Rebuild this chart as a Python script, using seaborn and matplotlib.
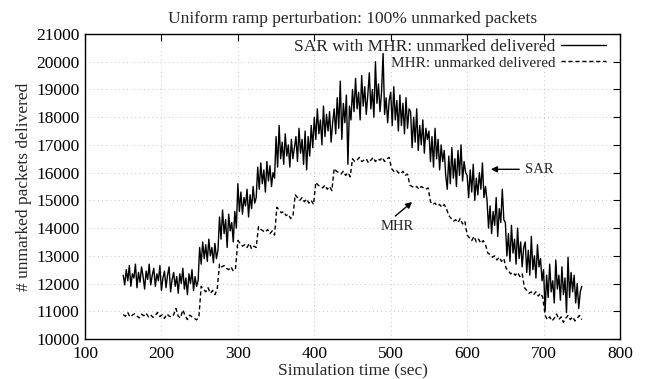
import matplotlib
matplotlib.use("Agg")
import matplotlib.pyplot as plt
from matplotlib.lines import Line2D
import seaborn as sns
import numpy as np
import pandas as pd

time_sar = np.arange(150, 751, 2)
time_mhr = np.arange(150, 751, 3)

# SAR with MHR: unmarked delivered (solid)
sar = [
    12300, 11950, 12500, 12100, 12650, 11900, 12350, 12200, 12700, 11850,
    12400, 12050, 12600, 12250, 11800, 12450, 12150, 12700, 11950, 12300,
    12550, 11900, 12350, 12100, 12650, 11750, 12200, 12450, 11850, 12300,
    12600, 11700, 12150, 12400, 11900, 12250, 11650, 12350, 12000, 12550,
    11800, 12200, 11600, 12350, 12000, 12500, 11750, 12250, 11900, 12100,
    # 250 s
    13300, 12700, 13500, 12900, 13400, 12800, 13600, 13000, 13300, 12750,
    13450, 12900, 13200,
    14400, 13600, 14650, 13800, 14300, 13300, 14500, 13900, 14200, 13500,
    14600, 14000,
    # 300 s
    15600, 14600, 15300, 14500, 15100, 14800, 15400, 14400, 15200, 14700,
    15500, 14900, 15100,
    16200, 15400, 16350, 15600, 16100, 15300, 16400, 15700, 16250, 15500,
    16000, 15800,
    # 350 s
    17300, 16200, 17700, 16500, 17100, 16300, 17400, 16600, 17000, 16200,
    17200, 16500, 16900,
    17300, 16400, 17600, 16700, 17200, 16300, 17500, 16100, 17300, 16600,
    17700, 16900,
    # 400 s
    18000, 17200, 18300, 17400, 17900, 17000, 18400, 17300, 18100, 17500,
    18200, 17100, 17800,
    18300, 17400, 18700, 17600, 19300, 17200, 18500, 17800, 18800, 16300,
    18400, 17900,
    # 450 s
    19000, 18200, 19400, 18300, 18900, 17900, 19500, 18400, 19100, 18100,
    18800, 19600, 18300, 19000, 18000, 20000, 18500, 19200, 18200, 18900,
    20300, 18100, 18700, 17800, 18600,
    # 500 s
    18900, 17700, 19100, 17900, 18600, 17500, 18800, 17700, 18500, 17400,
    18700, 17600, 18300,
    18200, 16900, 18000, 17100, 18300, 16800, 17700, 17000, 17900, 16700,
    17600, 17200,
    # 550 s
    17500, 16400, 17300, 16200, 17600, 16500, 17200, 16100, 17000, 16400,
    16800, 15900, 15400,
    16600, 15600, 16900, 15800, 16500, 15500, 16800, 15900, 17000, 15700,
    16400, 16000,
    # 600 s
    15900, 15100, 16100, 15300, 16300, 15000, 15800, 15200, 16000, 15400,
    16350, 15100, 15500,
    15000, 14000, 14800, 13800, 14600, 14100, 15100, 13700, 14700, 14200,
    15400, 14300,
    # 650 s
    14200, 13000, 13800, 12800, 14100, 13100, 13600, 12700, 14000, 12900,
    13500, 12600, 13300,
    13500, 12400, 13200, 12300, 13700, 12500, 13000, 12200, 13400, 12600,
    12900, 12100,
    # 700 s
    12500, 11000, 12300, 11500, 12700, 11700, 12100, 11300, 12850, 11800,
    12300, 11400, 12600, 11600, 12200, 10950, 12950, 11500, 12400, 11700,
    12300, 11300, 12000, 11100, 11700, 11900,
]

# MHR: unmarked delivered (dashed), stepwise plateaus
mhr = [
    10880, 10820, 10950, 10790, 10860, 10910, 10830, 10760, 10890, 10840,
    10930, 10800, 10870, 10780, 10850, 10960, 10810, 10870, 10740, 10900,
    10830, 10790, 10880, 11100, 10820, 10760, 11050, 10840, 10700, 10860,
    10800, 10750, 10690, 10780,
    11900, 11800, 11700, 11850, 11650, 11750, 11600, 11800,
    12700, 12600, 12650, 12550, 12500, 12600, 12450, 12550,
    13550, 13450, 13350, 13400, 13300, 13450, 13250, 13350, 13300,
    14050, 13950, 13900, 13850, 13950, 13800, 13900, 13750,
    14750, 14650, 14550, 14600, 14450, 14500, 14350, 14400,
    15200, 15100, 15000, 15100, 14950, 15050, 14900, 15000, 14850,
    15650, 15550, 15500, 15450, 15550, 15400, 15500, 15350,
    16150, 16050, 16000, 15950, 16050, 15900, 16000, 15850,
    16500, 16400, 16450, 16550, 16400, 16450, 16500, 16350, 16450, 16550,
    16400, 16500, 16450, 16550, 16400, 16500, 16550,
    16150, 16050, 16100, 16000, 15950, 16050, 15900, 15950,
    15550, 15500, 15450, 15500, 15400, 15500, 15450, 15400, 15450,
    14950, 14850, 14900, 14800, 14850, 14750, 14850, 14700,
    14450, 14350, 14250, 14300, 14200, 14350, 14150, 14250,
    13750, 13650, 13550, 13700, 13500, 13600, 13450, 13550, 13400,
    13100, 13050, 12950, 13000, 12850, 12950, 12800, 12900,
    12550, 12450, 12350, 12400, 12300, 12400, 12250, 12350,
    11850, 11750, 11650, 11700, 11600, 11700, 11550, 11650, 11500,
    10850, 10700, 10800, 10650, 10750, 10900, 10700, 10800, 10600, 10750,
    10850, 10700, 10800, 10650, 10750, 10850, 10700,
]

assert len(sar) == len(time_sar), len(sar)
assert len(mhr) == len(time_mhr), len(mhr)

x_ticks = [100, 200, 300, 400, 500, 600, 700, 800]
y_ticks = list(range(10000, 21001, 1000))

sns.set_style("white")
plt.rcParams["font.family"] = ["Liberation Serif", "DejaVu Serif"]

df_sar = pd.DataFrame({"time": time_sar, "value": sar})
df_mhr = pd.DataFrame({"time": time_mhr, "value": mhr})

fig = plt.figure(figsize=(6.45, 3.79), dpi=100)
ax = fig.add_axes([85 / 645, 1 - 339 / 379, 535 / 645, 305 / 379])

sns.lineplot(data=df_sar, x="time", y="value", ax=ax, color="black", lw=1.0)
sns.lineplot(data=df_mhr, x="time", y="value", ax=ax, color="black", lw=1.0,
             linestyle=(0, (3, 2)))

ax.set_xlim(100, 800)
ax.set_ylim(10000, 21000)
ax.set_xticks(x_ticks)
ax.set_yticks(y_ticks)
ax.tick_params(direction="in", top=True, right=True, length=5, width=0.8,
               labelsize=12.5, colors="black")
ax.tick_params(axis="x", pad=5)
ax.tick_params(axis="y", pad=4)
ax.grid(True, linestyle=(0, (1, 4)), color="#b0b0b0", lw=0.6)
for s in ax.spines.values():
    s.set_color("black")
    s.set_linewidth(1.0)

ax.set_xlabel("Simulation time (sec)", fontsize=12.5, labelpad=0)
ax.set_ylabel("# unmarked packets delivered", fontsize=12.5, labelpad=3)
ax.set_title("Uniform ramp perturbation: 100% unmarked packets",
             fontsize=12.5, pad=8)

handles = [Line2D([], [], color="black", lw=1.0),
           Line2D([], [], color="black", lw=1.0, linestyle=(0, (3, 2)))]
labels = ["SAR with MHR: unmarked delivered", "MHR: unmarked delivered"]
leg = ax.legend(handles, labels, loc="upper right",
                bbox_to_anchor=(0.9806, 0.995), markerfirst=False,
                frameon=False, fontsize=12.5, handlelength=2.6,
                handletextpad=0.3, labelspacing=0.0,
                borderaxespad=0.0, borderpad=0.2)
leg.get_texts()[1].set_fontsize(11)

ax.annotate("SAR", xy=(631, 16120), xytext=(676, 16120), fontsize=10.5,
            va="center", ha="left",
            arrowprops=dict(arrowstyle="-|>", color="black", lw=1.0,
                            shrinkA=2, shrinkB=0, mutation_scale=9))
ax.text(508, 14040, "MHR", fontsize=10.5, ha="center", va="center")
ax.annotate("", xy=(528, 14940), xytext=(506, 14435),
            arrowprops=dict(arrowstyle="-|>", color="black", lw=1.0,
                            shrinkA=0, shrinkB=0, mutation_scale=9))

fig.savefig("out.png", dpi=100)
